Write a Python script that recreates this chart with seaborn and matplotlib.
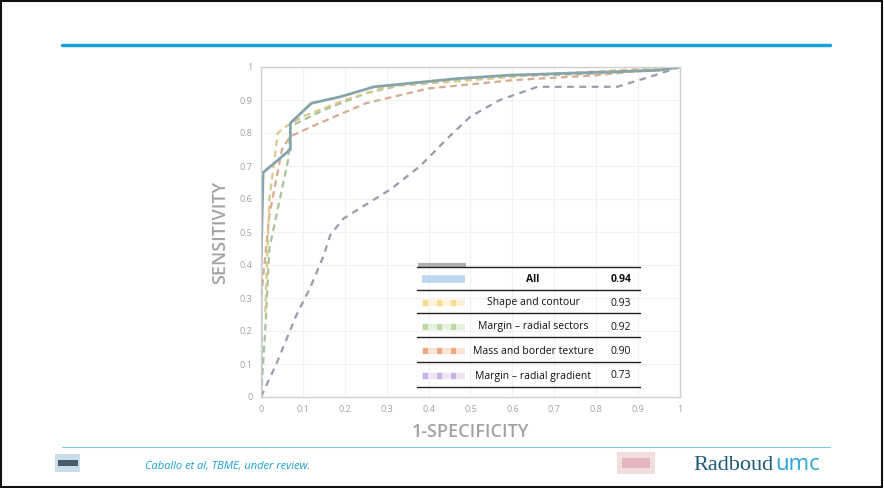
import numpy as np
import pandas as pd
import matplotlib
matplotlib.use("Agg")
import matplotlib.pyplot as plt
from matplotlib.lines import Line2D
from matplotlib.patches import Rectangle
import seaborn as sns

# ---------------- data ----------------
all_fpr = [0, 0, 0.005, 0.07, 0.07, 0.12, 0.19, 0.27, 0.47, 0.59, 0.95, 1.0]
all_tpr = [0, 0.40, 0.68, 0.75, 0.83, 0.89, 0.91, 0.94, 0.965, 0.975, 0.99, 1.0]

shape_fpr = [0, 0, 0.01, 0.02, 0.04, 0.06, 0.10, 0.20, 0.30, 0.50, 0.70, 1.0]
shape_tpr = [0, 0.25, 0.25, 0.60, 0.80, 0.82, 0.85, 0.90, 0.94, 0.96, 0.98, 1.0]

sect_fpr = [0, 0.01, 0.02, 0.045, 0.065, 0.07, 0.15, 0.25, 0.35, 0.55, 0.80, 1.0]
sect_tpr = [0, 0.20, 0.45, 0.60, 0.72, 0.82, 0.87, 0.92, 0.95, 0.97, 0.98, 1.0]

tex_fpr = [0, 0, 0.02, 0.05, 0.07, 0.14, 0.25, 0.40, 0.60, 0.80, 1.0]
tex_tpr = [0, 0.30, 0.55, 0.75, 0.79, 0.83, 0.89, 0.935, 0.96, 0.975, 1.0]

grad_fpr = [0, 0.04, 0.085, 0.117, 0.15, 0.165, 0.196, 0.31, 0.38, 0.45, 0.50, 0.57, 0.66, 0.75, 0.85, 0.94, 1.0]
grad_tpr = [0, 0.11, 0.25, 0.33, 0.43, 0.49, 0.54, 0.63, 0.70, 0.79, 0.85, 0.90, 0.94, 0.94, 0.94, 0.975, 1.0]

series_names = ["All", "Shape and contour", "Margin \u2013 radial sectors",
                "Mass and border texture", "Margin \u2013 radial gradient"]
auc_values = ["0.94", "0.93", "0.92", "0.90", "0.73"]
tick_values = [0, 0.1, 0.2, 0.3, 0.4, 0.5, 0.6, 0.7, 0.8, 0.9, 1]
tick_labels = ["0", "0.1", "0.2", "0.3", "0.4", "0.5", "0.6", "0.7", "0.8", "0.9", "1"]

line_colors = ["#86a4aa", "#d9c98c", "#a8c39a", "#d7aa92", "#9d9aae"]
swatch_colors = ["#bdd7ee", "#f7dc8f", "#bcd8a8", "#eea884", "#cdb0e2"]
swatch_light = ["#bdd7ee", "#fdf3d6", "#e8f2e0", "#fbe3d6", "#f0e6f7"]

# ---------------- figure ----------------
sns.set_theme(style="white")
plt.rcParams['font.family'] = ['Open Sans', 'DejaVu Sans']
W, H = 884, 488
fig = plt.figure(figsize=(W / 100, H / 100), dpi=100)
fig.patch.set_facecolor("white")

def fx(px):
    return px / W

def fy(py):
    return 1 - py / H

ax = fig.add_axes([fx(261), fy(397), (680 - 261) / W, (397 - 67) / H])

curves = [(all_fpr, all_tpr), (shape_fpr, shape_tpr), (sect_fpr, sect_tpr),
          (tex_fpr, tex_tpr), (grad_fpr, grad_tpr)]
styles = [(None, 2.0), ((3, 2), 1.6), ((3, 2), 1.6), ((3, 2), 1.6), ((3, 2.5), 1.6)]
frames = []
for name, (x, y) in zip(series_names, curves):
    frames.append(pd.DataFrame({"fpr": x, "tpr": y, "series": name}))
df = pd.concat(frames, ignore_index=True)

for name in series_names[::-1]:
    idx = series_names.index(name)
    sub = df[df["series"] == name]
    dash, lw = styles[idx]
    sns.lineplot(data=sub, x="fpr", y="tpr", ax=ax, sort=False,
                 color=line_colors[idx], linewidth=lw, estimator=None)
    if dash is not None:
        ax.lines[-1].set_dashes(dash)

ax.set_xlim(0, 1)
ax.set_ylim(0, 1)
ax.set_xticks(tick_values)
ax.set_xticklabels(tick_labels)
ax.set_yticks(tick_values)
ax.set_yticklabels(tick_labels)
ax.tick_params(axis="both", labelsize=6.5, colors="#a0a0a0", length=0, pad=6)
ax.grid(True, color="#f1f1f1", linewidth=0.8)
for s in ax.spines.values():
    s.set_color("#d0d0d0")
    s.set_linewidth(1.0)
ax.set_xlabel("1-SPECIFICITY", fontsize=13, color="#a3a3a3", fontweight="semibold", labelpad=6)
ax.set_ylabel("SENSITIVITY", fontsize=13, color="#a3a3a3", fontweight="semibold", labelpad=8)

# ---------------- legend table ----------------
row_lines = [267, 290, 313, 337, 362, 387]
row_text = [279, 303, 327, 351, 376]
fig.add_artist(Line2D([fx(418), fx(466)], [fy(265), fy(265)], color="#b0b0b0",
                      linewidth=3, solid_capstyle="butt"))
for py in row_lines:
    fig.add_artist(Line2D([fx(417), fx(640)], [fy(py), fy(py)], color="#222222", linewidth=1.0))
for i, (name, val) in enumerate(zip(series_names, auc_values)):
    ty = fy(row_text[i])
    if i == 0:
        fig.add_artist(Line2D([fx(422), fx(465)], [ty, ty], color=swatch_colors[i],
                              linewidth=5.5, solid_capstyle="butt"))
    else:
        fig.add_artist(Line2D([fx(422), fx(465)], [ty, ty], color=swatch_light[i],
                              linewidth=4.5, solid_capstyle="butt"))
        fig.add_artist(Line2D([fx(423), fx(465)], [ty, ty], color=swatch_colors[i],
                              linewidth=4.5, dashes=(0.8, 1.45), dash_capstyle="butt"))
    wt = "bold" if i == 0 else "normal"
    fig.text(fx(533), ty, name, ha="center", va="center", fontsize=7.5, color="#111111",
             fontweight=wt)
    fig.text(fx(621), ty, val, ha="center", va="center", fontsize=7.5, color="#111111",
             fontweight=wt)

# ---------------- slide decoration ----------------
fig.add_artist(Line2D([fx(62), fx(830)], [fy(45), fy(45)], color="#1ba1d8", linewidth=2.5))
fig.add_artist(Line2D([fx(62), fx(830)], [fy(447), fy(447)], color="#7fcbe8", linewidth=0.8))
fig.add_artist(Rectangle((0.001, 0.002), 0.997, 0.996, transform=fig.transFigure,
                         fill=False, edgecolor="#111111", linewidth=1.5))
# left logo
fig.add_artist(Rectangle((fx(55), fy(472)), 25 / W, 18 / H, transform=fig.transFigure,
                         facecolor="#c9dde6", edgecolor="none"))
fig.add_artist(Rectangle((fx(58), fy(466)), 20 / W, 6 / H, transform=fig.transFigure,
                         facecolor="#4a5a66", edgecolor="none"))
fig.text(fx(145), fy(466), "Caballo et al, TBME, under review.", fontsize=8,
         color="#1ba1d8", style="italic", va="center", ha="left")
# right logo
fig.add_artist(Rectangle((fx(617), fy(474)), 38 / W, 22 / H, transform=fig.transFigure,
                         facecolor="#f3dede", edgecolor="none"))
fig.add_artist(Rectangle((fx(622), fy(468)), 28 / W, 10 / H, transform=fig.transFigure,
                         facecolor="#e3b7bd", edgecolor="none"))
t1 = fig.text(fx(693), fy(465), "Radboud", fontsize=16, color="#1d5b7a",
              va="center", ha="left", family=["Liberation Serif", "DejaVu Serif"])
fig.canvas.draw()
bb = t1.get_window_extent()
fig.text(bb.x1 / W + 0.002, fy(465), "umc", fontsize=16, color="#2aa7d8",
         va="center", ha="left")

fig.savefig("out.png", dpi=100)
